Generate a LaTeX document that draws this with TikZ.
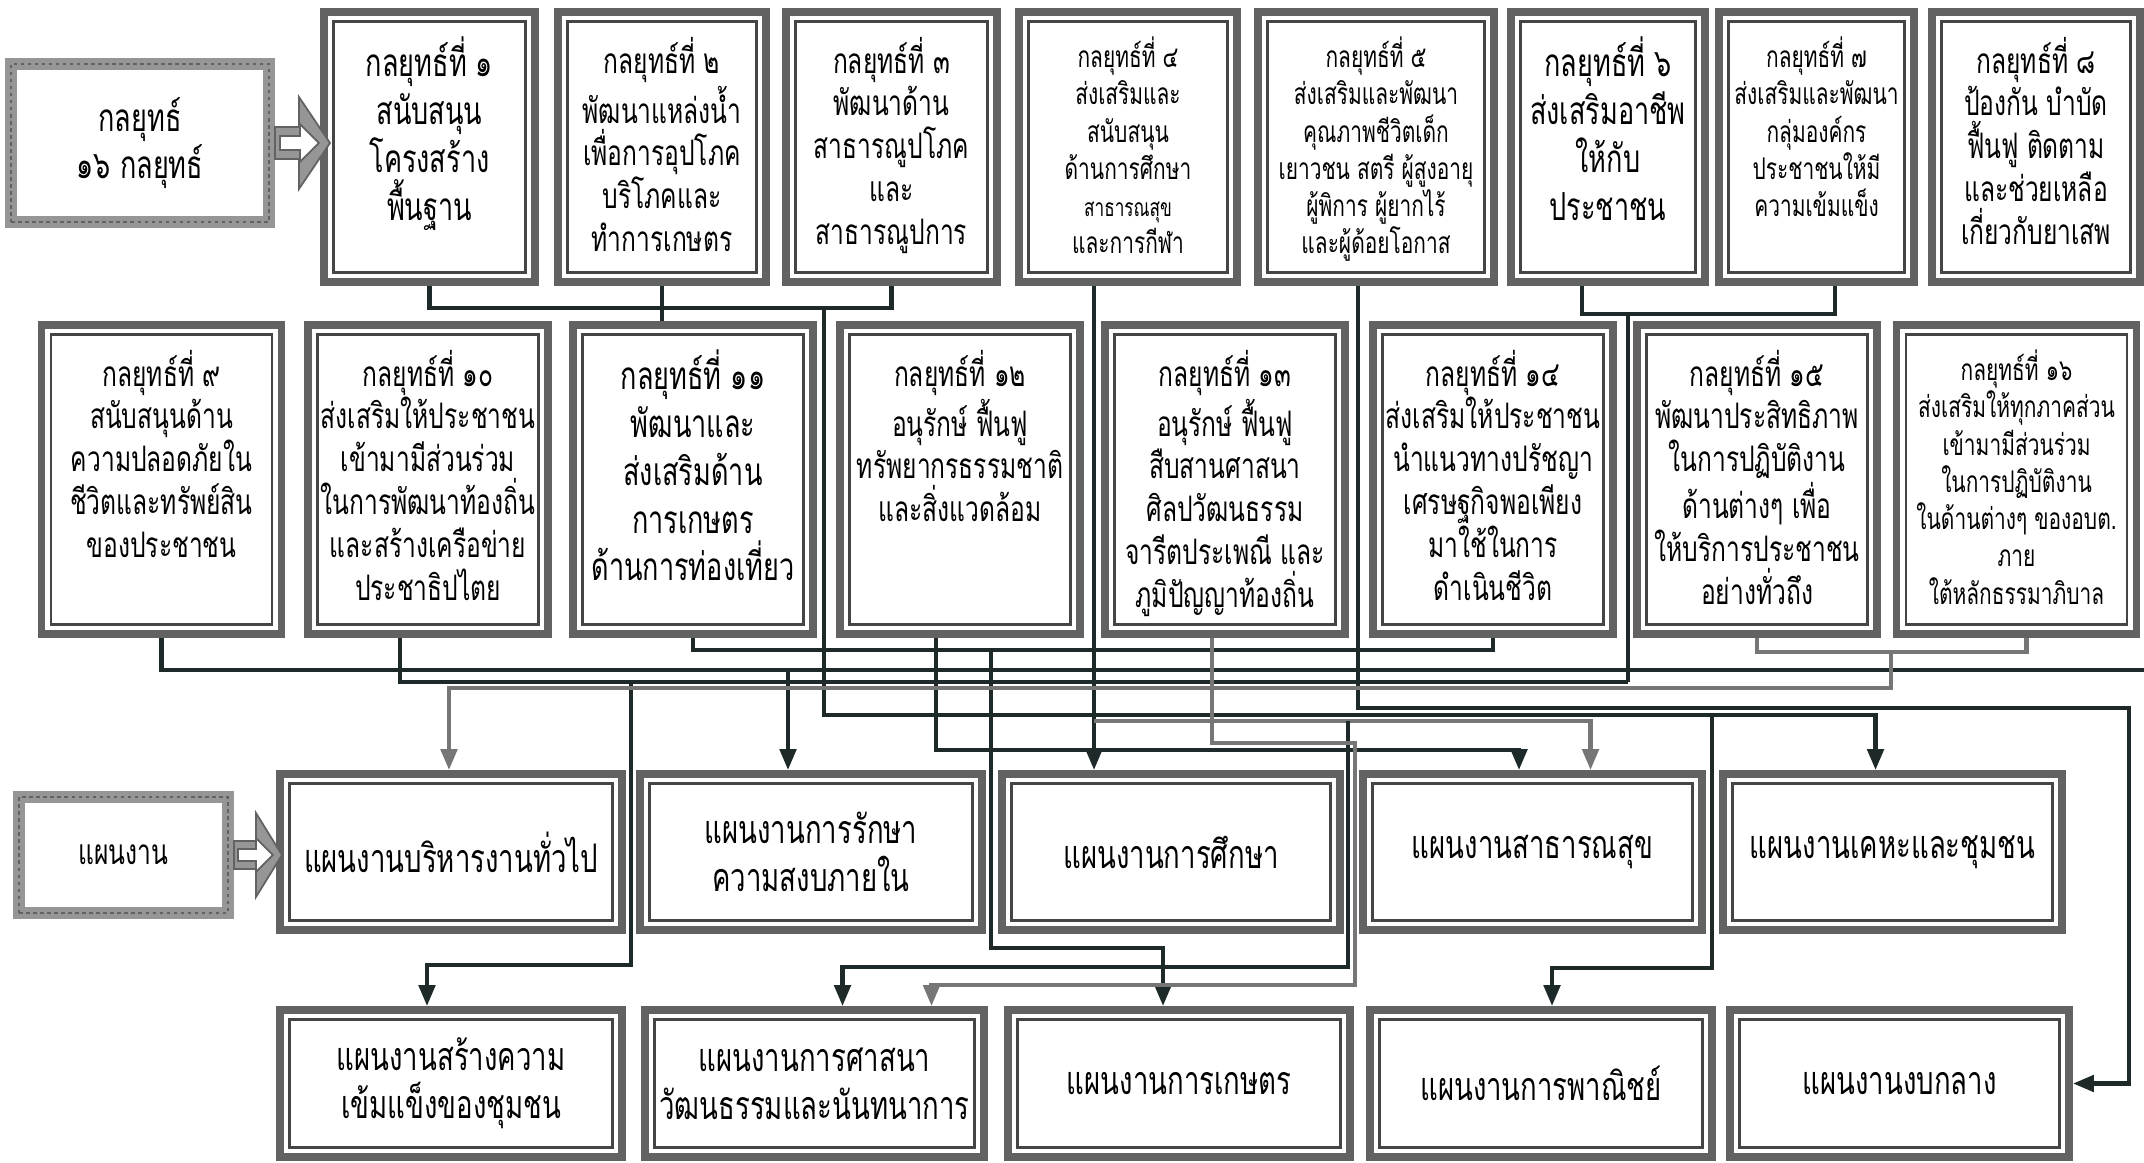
\documentclass[tikz,border=0pt]{standalone}
\usepackage{fontspec}
\newfontfamily\thaifont[Script=Thai,FakeStretch=0.7]{Loma}
\usetikzlibrary{arrows.meta,calc}

\definecolor{framegray}{RGB}{98,98,98}
\definecolor{tagggray}{RGB}{150,150,150}
\definecolor{linedark}{RGB}{30,42,42}
\definecolor{linegray}{RGB}{118,118,118}

\begin{document}
\begin{tikzpicture}[x=0.1mm,y=-0.1mm,
  frame/.style={draw=framegray,line width=2.2pt,fill=white,inner sep=0pt},
  tagbox/.style={draw=tagggray,line width=3.4pt,fill=white,inner sep=0pt,
    postaction={draw=framegray,line width=0.6pt,dash pattern=on 1pt off 1pt}},
  bigtxt/.style={align=center,inner sep=0pt,font=\thaifont\fontsize{11}{13.6}\selectfont},
  midtxt/.style={align=center,inner sep=0pt,font=\thaifont\fontsize{10}{12.2}\selectfont},
  smalltxt/.style={align=center,inner sep=0pt,font=\thaifont\fontsize{8.5}{10.6}\selectfont},
  plantxt/.style={align=center,font=\thaifont\fontsize{11.2}{13.6}\selectfont},
  conn/.style={draw=linedark,line width=1.3pt},
  conng/.style={draw=linegray,line width=1.3pt},
  tip/.style={-{Triangle[length=6pt,width=4.6pt]}}]
\useasboundingbox (0,0) rectangle (2144,1163);
\fill[white] (0,0) rectangle (2144,1163);

% label boxes
\node[tagbox,bigtxt,minimum width=25.8mm,minimum height=15.8mm] (tag1) at (140,143) {กลยุทธ์\\๑๖ กลยุทธ์};
\node[tagbox,midtxt,minimum width=20.9mm,minimum height=11.6mm] (tag2) at (123.5,855) {แผนงาน};

% strategies, top row
\node[frame,minimum width=21.1mm,minimum height=27mm] (s1) at (429.5,147) {};
\node[frame,minimum width=20.8mm,minimum height=27mm] (s2) at (662,147) {};
\node[frame,minimum width=21.1mm,minimum height=27mm] (s3) at (891.5,147) {};
\node[frame,minimum width=21.8mm,minimum height=27mm] (s4) at (1128,147) {};
\node[frame,minimum width=23.6mm,minimum height=27mm] (s5) at (1376,147) {};
\node[frame,minimum width=19.4mm,minimum height=27mm] (s6) at (1608,147) {};
\node[frame,minimum width=19.5mm,minimum height=27mm] (s7) at (1816.5,147) {};
\node[frame,minimum width=20.8mm,minimum height=27mm] (s8) at (2036,147) {};

% strategies, second row
\node[frame,minimum width=24mm,minimum height=30.9mm] (s9) at (161.5,479.5) {};
\node[frame,minimum width=24mm,minimum height=30.9mm] (s10) at (428,479.5) {};
\node[frame,minimum width=24mm,minimum height=30.9mm] (s11) at (693,479.5) {};
\node[frame,minimum width=24mm,minimum height=30.9mm] (s12) at (960,479.5) {};
\node[frame,minimum width=24mm,minimum height=30.9mm] (s13) at (1225,479.5) {};
\node[frame,minimum width=24mm,minimum height=30.9mm] (s14) at (1493,479.5) {};
\node[frame,minimum width=24mm,minimum height=30.9mm] (s15) at (1757,479.5) {};
\node[frame,minimum width=24mm,minimum height=30.9mm] (s16) at (2016.5,479.5) {};

\node[bigtxt,anchor=north] (t1) at ([yshift=-8pt]s1.north) {กลยุทธ์ที่ ๑\\สนับสนุน\\โครงสร้าง\\พื้นฐาน};
\node[midtxt,anchor=north] (t2) at ([yshift=-8pt]s2.north) {กลยุทธ์ที่ ๒\\พัฒนาแหล่งน้ำ\\เพื่อการอุปโภค\\บริโภคและ\\ทำการเกษตร};
\node[midtxt,anchor=north] (t3) at ([yshift=-8pt]s3.north) {กลยุทธ์ที่ ๓\\พัฒนาด้าน\\สาธารณูปโภค\\และ\\สาธารณูปการ};
\node[smalltxt,anchor=north] (t4) at ([yshift=-8pt]s4.north) {กลยุทธ์ที่ ๔\\ส่งเสริมและ\\สนับสนุน\\ด้านการศึกษา\\{\fontsize{7}{10.6}\selectfont สาธารณสุข}\\และการกีฬา};
\node[smalltxt,anchor=north] (t5) at ([yshift=-8pt]s5.north) {กลยุทธ์ที่ ๕\\ส่งเสริมและพัฒนา\\คุณภาพชีวิตเด็ก\\เยาวชน สตรี ผู้สูงอายุ\\ผู้พิการ ผู้ยากไร้\\และผู้ด้อยโอกาส};
\node[bigtxt,anchor=north] (t6) at ([yshift=-8pt]s6.north) {กลยุทธ์ที่ ๖\\ส่งเสริมอาชีพ\\ให้กับ\\ประชาชน};
\node[smalltxt,anchor=north] (t7) at ([yshift=-8pt]s7.north) {กลยุทธ์ที่ ๗\\ส่งเสริมและพัฒนา\\กลุ่มองค์กร\\ประชาชนให้มี\\ความเข้มแข็ง};
\node[midtxt,anchor=north] (t8) at ([yshift=-8pt]s8.north) {กลยุทธ์ที่ ๘\\ป้องกัน บำบัด\\ฟื้นฟู ติดตาม\\และช่วยเหลือ\\เกี่ยวกับยาเสพ};
\node[midtxt,anchor=north] (t9) at ([yshift=-8pt]s9.north) {กลยุทธ์ที่ ๙\\สนับสนุนด้าน\\ความปลอดภัยใน\\ชีวิตและทรัพย์สิน\\ของประชาชน};
\node[midtxt,anchor=north] (t10) at ([yshift=-8pt]s10.north) {กลยุทธ์ที่ ๑๐\\ส่งเสริมให้ประชาชน\\เข้ามามีส่วนร่วม\\ในการพัฒนาท้องถิ่น\\และสร้างเครือข่าย\\ประชาธิปไตย};
\node[bigtxt,anchor=north] (t11) at ([yshift=-8pt]s11.north) {กลยุทธ์ที่ ๑๑\\พัฒนาและ\\ส่งเสริมด้าน\\การเกษตร\\ด้านการท่องเที่ยว};
\node[midtxt,anchor=north] (t12) at ([yshift=-8pt]s12.north) {กลยุทธ์ที่ ๑๒\\อนุรักษ์ ฟื้นฟู\\ทรัพยากรธรรมชาติ\\และสิ่งแวดล้อม};
\node[midtxt,anchor=north] (t13) at ([yshift=-8pt]s13.north) {กลยุทธ์ที่ ๑๓\\อนุรักษ์ ฟื้นฟู\\สืบสานศาสนา\\ศิลปวัฒนธรรม\\จารีตประเพณี และ\\ภูมิปัญญาท้องถิ่น};
\node[midtxt,anchor=north] (t14) at ([yshift=-8pt]s14.north) {กลยุทธ์ที่ ๑๔\\ส่งเสริมให้ประชาชน\\นำแนวทางปรัชญา\\เศรษฐกิจพอเพียง\\มาใช้ในการ\\ดำเนินชีวิต};
\node[midtxt,anchor=north] (t15) at ([yshift=-8pt]s15.north) {กลยุทธ์ที่ ๑๕\\พัฒนาประสิทธิภาพ\\ในการปฏิบัติงาน\\ด้านต่างๆ เพื่อ\\ให้บริการประชาชน\\อย่างทั่วถึง};
\node[smalltxt,anchor=north] (t16) at ([yshift=-8pt]s16.north) {กลยุทธ์ที่ ๑๖\\ส่งเสริมให้ทุกภาคส่วน\\เข้ามามีส่วนร่วม\\ในการปฏิบัติงาน\\ในด้านต่างๆ ของอบต.\\ภาย\\ใต้หลักธรรมาภิบาล};

% plans
\node[frame,plantxt,minimum width=34.2mm,minimum height=15.6mm] (p1) at (451,852) {แผนงานบริหารงานทั่วไป};
\node[frame,plantxt,minimum width=34.2mm,minimum height=15.6mm] (p2) at (811,852) {แผนงานการรักษา\\ความสงบภายใน};
\node[frame,plantxt,minimum width=33.8mm,minimum height=15.6mm] (p3) at (1171,852) {แผนงานการศึกษา};
\node[frame,plantxt,minimum width=33.9mm,minimum height=15.6mm] (p4) at (1532.5,852) {แผนงานสาธารณสุข};
\node[frame,plantxt,minimum width=33.9mm,minimum height=15.6mm] (p5) at (1892.5,852) {แผนงานเคหะและชุมชน};
\node[frame,plantxt,minimum width=34.2mm,minimum height=14.7mm] (p6) at (451,1083.5) {แผนงานสร้างความ\\เข้มแข็งของชุมชน};
\node[frame,plantxt,minimum width=33.9mm,minimum height=14.7mm] (p7) at (814.5,1083.5) {แผนงานการศาสนา\\วัฒนธรรมและนันทนาการ};
\node[frame,plantxt,minimum width=34.2mm,minimum height=14.7mm] (p8) at (1179,1083.5) {แผนงานการเกษตร};
\node[frame,plantxt,minimum width=34.2mm,minimum height=14.7mm] (p9) at (1541,1083.5) {แผนงานการพาณิชย์};
\node[frame,plantxt,minimum width=33.9mm,minimum height=14.7mm] (p10) at (1899.5,1083.5) {แผนงานงบกลาง};

% inner lines of the frames
\foreach \n in {1,...,16}
  \draw[framegray!70!black,line width=0.6pt] ([shift={(3.8pt,-3.8pt)}]s\n.north west) rectangle ([shift={(-3.8pt,3.8pt)}]s\n.south east);
\foreach \n in {1,...,10}
  \draw[framegray!70!black,line width=0.6pt] ([shift={(3.8pt,-3.8pt)}]p\n.north west) rectangle ([shift={(-3.8pt,3.8pt)}]p\n.south east);

% block arrows from the labels
\filldraw[fill=tagggray,draw=framegray,line width=0.5pt] (tag1.east) ++(0,-16) -- ++(24,0) -- ++(0,-30) -- ++(31,46) -- ++(-31,46) -- ++(0,-30) -- ++(-24,0) -- cycle;
\filldraw[fill=white,draw=framegray,line width=0.5pt] (tag1.east) ++(5,-7) -- ++(20,0) -- ++(0,-12) -- ++(19,19) -- ++(-19,19) -- ++(0,-12) -- ++(-20,0) -- cycle;
\filldraw[fill=tagggray,draw=framegray,line width=0.5pt] (tag2.east) ++(0,-14) -- ++(22,0) -- ++(0,-28) -- ++(26,42) -- ++(-26,42) -- ++(0,-28) -- ++(-22,0) -- cycle;
\filldraw[fill=white,draw=framegray,line width=0.5pt] (tag2.east) ++(4,-6) -- ++(18,0) -- ++(0,-11) -- ++(17,17) -- ++(-17,17) -- ++(0,-11) -- ++(-18,0) -- cycle;

% connectors
\coordinate (a1) at (824,308);
\coordinate (a2) at (824,715);
\coordinate (a3) at (1712,715);
\coordinate (a4) at (1712,968);
\coordinate (b1) at ($(s4.south)+(-34,0)$);
\coordinate (b2) at (1094,721);
\coordinate (b3) at (1348,721);
\coordinate (b4) at (1348,967);
\coordinate (c1) at ($(s5.south)+(-18,0)$);
\coordinate (c2) at (1358,708);
\coordinate (c3) at (2129,708);
\coordinate (d0) at (1582,314);
\coordinate (d5) at (1835,314);
\coordinate (d1) at (1628,314);
\coordinate (d2) at (1628,682);
\coordinate (d3) at (631,682);
\coordinate (d4) at (631,965);
\coordinate (e1) at (2144,670);
\coordinate (e2) at (788,670);
\coordinate (f1) at (991,650);
\coordinate (f2) at (991,948);
\coordinate (g1) at (936,750);
\coordinate (g2) at (1519,750);
\coordinate (h1) at (1212,743);
\coordinate (h2) at (1355,743);
\coordinate (h3) at (1355,985);
\coordinate (k1) at (1891,653);
\coordinate (k2) at (1891,688);

\draw[conn] (s1.south) -- ++(0,22) -| (s3.south);
\draw[conn] (s2.south) -- (s2.south |- s11.north);
\draw[conn,tip] (a1) -- (a2) -| ($(p5.north)+(-17,0)$);
\draw[conn,tip] (a3) -- (a4) -| ($(p9.north)+(11,0)$);

\draw[conn,tip] (b1) -- (b1 |- p3.north);
\draw[conng,tip] (b2) -| ($(p4.north)+(58,0)$);
\draw[conn,tip] (b3) -- (b4) -| ($(p7.north)+(28,0)$);

\draw[conn,tip] (c1) -- (c2) -- (c3) |- (p10.east);

\draw[conn] (d0 |- s6.south) -- (d0) -- (d5) -- (d5 |- s7.south);
\draw[conn] (d1) -- (d2);
\draw[conn] ($(s10.south)+(-28,0)$) |- (d2);
\draw[conn,tip] (d3) -- (d4) -| ($(p6.north)+(-24,0)$);

\draw[conn] (s9.south) |- (e1);
\draw[conn,tip] (e2) -- (e2 |- p2.north);

\draw[conn] (s11.south) -- ++(0,12) -| (s14.south);
\draw[conn,tip] (f1) -- (f2) -| ($(p8.north)+(-16,0)$);

\draw[conn,tip] ($(s12.south)+(-24,0)$) -- (g1) -- (g2) -- (g2 |- p4.north);

\draw[conng,tip] ($(s13.south)+(-13,0)$) -- (h1) -- (h2) -- (h3) -| ($(p7.north)+(117,0)$);

\draw[conng] (s15.south) -- ++(0,14) -| ($(s16.south)+(10,0)$);
\draw[conng,tip] (k1) -- (k2) -| ($(p1.north)+(-2,0)$);
\end{tikzpicture}
\end{document}
